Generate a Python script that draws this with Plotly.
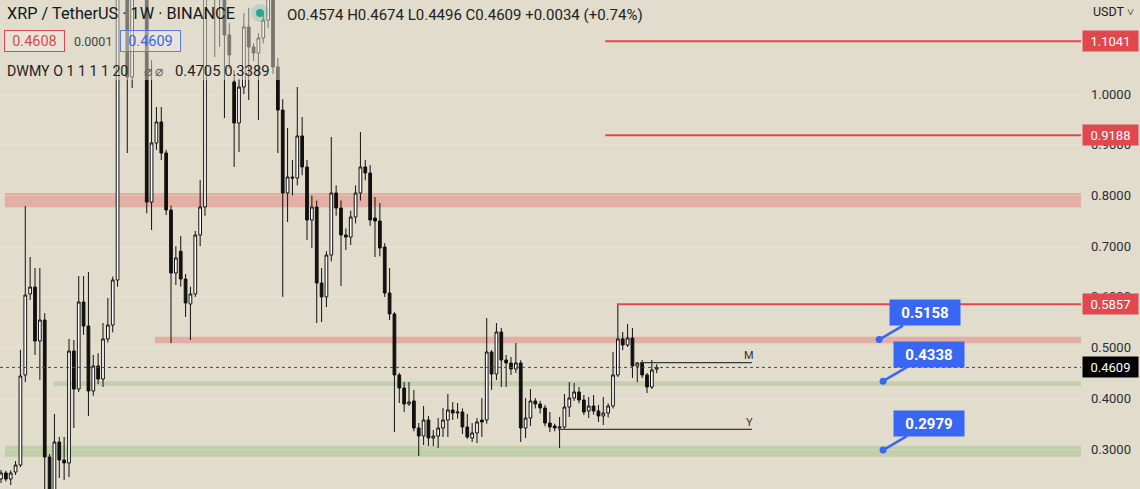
import plotly.graph_objects as go

W, H = 1140, 489
PLOT_W = 1081

# ---------------- data ----------------
week_index = list(range(136))
opens = [0.2408,0.2527,0.2408,0.2546,0.2684,0.4460,0.6057,0.6195,0.5130,0.5544,
         0.2842,0.2150,0.3138,0.2783,0.2724,0.4933,0.4183,0.5900,0.5426,0.4144,
         0.4637,0.4380,0.5170,0.5446,0.6333,1.3000,1.4500,1.0337,1.5800,1.4500,
         1.5000,0.7870,0.9036,0.9450,0.8838,0.7714,0.6471,0.6900,0.6353,0.5860,
         0.6057,0.7220,0.7773,1.2400,1.2000,1.2100,1.2700,1.1166,1.0240,0.9430,
         1.0140,1.1324,1.0930,1.0810,1.1107,1.1460,1.2500,1.0535,0.9686,0.8049,
         0.8365,0.8345,0.9174,0.8562,0.7517,0.7773,0.6274,0.6000,0.6826,0.8049,
         0.7753,0.7221,0.7180,0.7576,0.8049,0.8562,0.8444,0.7556,0.7497,0.6984,
         0.6077,0.5663,0.4460,0.4203,0.3888,0.3947,0.3414,0.3256,0.3572,0.3217,
         0.3256,0.3414,0.3572,0.3769,0.3710,0.3730,0.3434,0.3217,0.3316,0.3572,
         0.3572,0.4913,0.4479,0.5308,0.4755,0.4696,0.4578,0.4696,0.3414,0.3611,
         0.3947,0.3888,0.3809,0.3513,0.3454,0.3414,0.3434,0.3828,0.4006,0.4124,
         0.3966,0.3750,0.3848,0.3750,0.3651,0.3710,0.3848,0.4460,0.5170,0.5051,
         0.5189,0.4637,0.4696,0.4460,0.4223,0.4574]
highs = [0.2586,0.2570,0.2580,0.2763,0.4953,0.7790,0.6787,0.6570,0.6570,0.5680,
         0.2900,0.3690,0.3237,0.3237,0.5170,0.5150,0.6412,0.6412,0.6490,0.4854,
         0.4890,0.5485,0.5978,0.6400,1.4000,1.9600,1.5500,1.6500,1.7500,1.6200,
         1.5500,1.0670,0.9745,0.9745,0.8900,0.7800,0.7000,0.7200,0.6450,0.6200,
         0.7300,0.8306,1.3500,1.3200,1.3000,1.3300,1.4000,1.1400,1.0475,1.0300,
         1.1600,1.1700,1.1000,1.1200,1.1600,1.3500,1.3000,1.0710,0.9900,0.9331,
         0.8700,1.0140,0.9548,0.8700,0.8000,0.7900,0.6570,0.6900,0.9154,0.8200,
         0.7900,0.7350,0.7700,0.8200,0.9252,0.8700,0.8600,0.7970,0.7852,0.7060,
         0.6570,0.5700,0.4500,0.4320,0.4320,0.4164,0.3513,0.3848,0.3651,0.3375,
         0.3611,0.3809,0.4085,0.3927,0.3907,0.3800,0.3690,0.3513,0.3611,0.4006,
         0.5584,0.4950,0.5485,0.5387,0.4854,0.4815,0.5090,0.4750,0.4006,0.4183,
         0.4006,0.3950,0.3868,0.3730,0.3500,0.3631,0.4085,0.4320,0.4302,0.4223,
         0.4065,0.4026,0.4065,0.3868,0.4026,0.3900,0.4913,0.5857,0.5308,0.5465,
         0.5387,0.4716,0.4755,0.4500,0.4755,0.4674]
lows = [0.2329,0.2360,0.2290,0.2487,0.2645,0.4320,0.5940,0.4854,0.4360,0.2000,
        0.1700,0.2000,0.2428,0.2389,0.2448,0.3414,0.4124,0.5250,0.3650,0.4050,
        0.4280,0.4223,0.5100,0.5300,0.6200,1.2500,0.8838,1.0120,1.3500,1.2000,
        0.7650,0.7320,0.8900,0.8700,0.7615,0.5090,0.6235,0.6200,0.5604,0.5150,
        0.6000,0.7000,0.7600,1.1900,1.0730,1.0930,0.9529,1.0500,0.8562,0.8858,
        1.0000,0.9884,1.0650,0.9490,1.1000,1.1300,1.0400,0.8838,0.6000,0.7477,
        0.8000,0.8200,0.8400,0.7122,0.6964,0.5485,0.5505,0.5800,0.6700,0.7600,
        0.6215,0.6925,0.7024,0.7450,0.7900,0.8300,0.7400,0.6787,0.6800,0.6000,
        0.5544,0.3335,0.3907,0.3730,0.3850,0.3350,0.2862,0.3079,0.3059,0.3059,
        0.3020,0.3237,0.3237,0.3572,0.3600,0.3296,0.3197,0.3138,0.3118,0.3237,
        0.3500,0.4164,0.4361,0.4223,0.4223,0.4460,0.4500,0.3138,0.3217,0.3454,
        0.3800,0.3700,0.3450,0.3335,0.3350,0.3020,0.3400,0.3631,0.3950,0.3900,
        0.3671,0.3611,0.3680,0.3533,0.3473,0.3620,0.3800,0.4420,0.4950,0.5012,
        0.4400,0.4321,0.4400,0.4104,0.4183,0.4496]
closes = [0.2527,0.2408,0.2527,0.2684,0.4440,0.6037,0.6195,0.5130,0.5544,0.2842,
          0.2150,0.3138,0.2783,0.2724,0.4933,0.4183,0.5900,0.5426,0.4144,0.4637,
          0.4380,0.5170,0.5446,0.6333,1.3000,1.4500,1.0337,1.5800,1.4500,1.5000,
          0.7870,0.9036,0.9450,0.8838,0.7714,0.6471,0.6767,0.6353,0.5880,0.6057,
          0.7220,0.7773,1.2400,1.2000,1.2100,1.2700,1.1166,1.0771,0.9430,1.0140,
          1.1324,1.0930,1.0810,1.1107,1.1460,1.2500,1.0535,0.9686,0.8049,0.8365,
          0.8345,0.9174,0.8562,0.7517,0.7773,0.6274,0.6000,0.6826,0.8049,0.7753,
          0.7221,0.7180,0.7576,0.8049,0.8562,0.8444,0.7517,0.7497,0.6964,0.6077,
          0.5663,0.4460,0.4203,0.3888,0.3927,0.3414,0.3256,0.3572,0.3217,0.3256,
          0.3414,0.3572,0.3769,0.3710,0.3730,0.3434,0.3237,0.3316,0.3533,0.3533,
          0.4913,0.4479,0.5308,0.4755,0.4696,0.4578,0.4696,0.3414,0.3611,0.3947,
          0.3888,0.3809,0.3513,0.3434,0.3414,0.3434,0.3828,0.4006,0.4124,0.3966,
          0.3730,0.3848,0.3750,0.3651,0.3710,0.3848,0.4460,0.5170,0.5051,0.5189,
          0.4637,0.4696,0.4460,0.4223,0.4558,0.4609]

price_ticks = [0.3, 0.4, 0.5, 0.6, 0.7, 0.8, 0.9, 1.0]
price_tick_text = ["%.4f" % v for v in price_ticks]

zone_low = [0.777, 0.5085, 0.4243, 0.2848]
zone_high = [0.805, 0.5215, 0.4338, 0.3065]
zone_kind = ["resist", "resist", "support", "support"]

red_levels = [1.1041, 0.9188, 0.5857]
callout_levels = [0.5158, 0.4338, 0.2979]
pivot_levels = [0.4705, 0.3389]
pivot_names = ["M", "Y"]
last_price = 0.4609

# ---------------- layout helpers ----------------
X0, X1 = -0.206, 222.35
Y0, Y1 = 0.2211, 1.1856
BG = "#E1DCCB"
RED = "#E0484E"
BLUE = "#3A66F4"

zone_start = [0.8, 31.7, 10.9, 0.8]
red_start = [124.4, 124.4, 126.8]
callout_x = [180.8, 181.6, 181.6]
pivot_start = [131.6, 114.7]
pivot_end = 154.6


def pxx(v):
    return v / PLOT_W


def pxy(v):
    return 1 - v / H


fig = go.Figure()
fig.add_trace(go.Candlestick(
    x=week_index, open=opens, high=highs, low=lows, close=closes,
    increasing=dict(line=dict(color="#111111", width=1), fillcolor="#FFFFFF"),
    decreasing=dict(line=dict(color="#111111", width=1), fillcolor="#111111"),
    whiskerwidth=0, hoverinfo="skip", showlegend=False,
))

shapes = []
for lo, hi, kind, xs in zip(zone_low, zone_high, zone_kind, zone_start):
    col = "rgba(232,110,110,0.42)" if kind == "resist" else "rgba(120,180,100,0.30)"
    shapes.append(dict(type="rect", xref="x", yref="y", x0=xs, x1=X1, y0=lo, y1=hi,
                       fillcolor=col, line=dict(width=0), layer="below"))
for lv, xs in zip(red_levels, red_start):
    shapes.append(dict(type="line", xref="x", yref="y", x0=xs, x1=X1, y0=lv, y1=lv,
                       line=dict(color=RED, width=2)))
for lv, xs in zip(pivot_levels, pivot_start):
    shapes.append(dict(type="line", xref="x", yref="y", x0=xs, x1=pivot_end, y0=lv, y1=lv,
                       line=dict(color="#3a3a3a", width=1.3)))
shapes.append(dict(type="line", xref="paper", yref="y", x0=0, x1=1, y0=last_price, y1=last_price,
                   line=dict(color="#4a4a4a", width=1, dash="dot")))
# legend translucent backdrop
shapes.append(dict(type="rect", xref="paper", yref="paper", x0=0, x1=pxx(282), y0=pxy(80), y1=1,
                   fillcolor="rgba(225,220,203,0.5)", line=dict(width=0), layer="above"))
# status dot
shapes.append(dict(type="circle", xref="paper", yref="paper", x0=pxx(251), x1=pxx(269),
                   y0=pxy(22), y1=pxy(4), fillcolor="rgba(38,166,154,0.18)", line=dict(width=0), layer="above"))
shapes.append(dict(type="circle", xref="paper", yref="paper", x0=pxx(256), x1=pxx(264),
                   y0=pxy(17), y1=pxy(9), fillcolor="#26A69A", line=dict(width=0), layer="above"))

ann = []
FONT = "Roboto"
# axis price tags
for lv in red_levels:
    ann.append(dict(xref="paper", yref="y", x=1, y=lv, xanchor="left", yanchor="middle", xshift=1,
                    text="%.4f" % lv, showarrow=False, bgcolor=RED, width=51, height=16, borderpad=2,
                    font=dict(family=FONT, size=13, color="white")))
ann.append(dict(xref="paper", yref="y", x=1, y=last_price, xanchor="left", yanchor="middle", xshift=1,
                text="%.4f" % last_price, showarrow=False, bgcolor="#000000", width=51, height=16, borderpad=2,
                font=dict(family=FONT, size=13, color="white")))
# callouts
for lv, xc in zip(callout_levels, callout_x):
    ann.append(dict(xref="x", yref="y", x=xc, y=lv, text="<b>%.4f</b>" % lv, showarrow=True,
                    ax=46, ay=-27, arrowhead=6, arrowsize=0.7, arrowwidth=2.5, arrowcolor=BLUE,
                    bgcolor=BLUE, width=64, height=19, borderpad=3,
                    font=dict(family=FONT, size=15, color="white")))
# pivot labels
for lv, nm in zip(pivot_levels, pivot_names):
    ann.append(dict(xref="x", yref="y", x=pivot_end - 0.6, y=lv, yshift=7, text=nm, showarrow=False,
                    font=dict(family=FONT, size=11, color="#333333")))
# header texts
ann.append(dict(xref="paper", yref="paper", x=pxx(5), y=pxy(14), xanchor="left", yanchor="middle",
                text="XRP / TetherUS · 1W · BINANCE", showarrow=False,
                font=dict(family=FONT, size=16.3, color="#131722")))
ann.append(dict(xref="paper", yref="paper", x=pxx(285), y=pxy(15), xanchor="left", yanchor="middle",
                text="O0.4574 H0.4674 L0.4496 C0.4609 +0.0034 (+0.74%)", showarrow=False,
                font=dict(family=FONT, size=15, color="#222222")))
ann.append(dict(xref="paper", yref="paper", x=pxx(4), y=pxy(41), xanchor="left", yanchor="middle",
                text="0.4608", showarrow=False, bordercolor=RED, borderwidth=1, borderpad=2,
                bgcolor="rgba(255,255,255,0.25)", width=55, height=16,
                font=dict(family=FONT, size=14.5, color=RED)))
ann.append(dict(xref="paper", yref="paper", x=pxx(72), y=pxy(42), xanchor="left", yanchor="middle",
                text="0.0001", showarrow=False, font=dict(family=FONT, size=12.5, color="#444444")))
ann.append(dict(xref="paper", yref="paper", x=pxx(120), y=pxy(41), xanchor="left", yanchor="middle",
                text="0.4609", showarrow=False, bordercolor="#5B7CF6", borderwidth=1, borderpad=2,
                bgcolor="rgba(255,255,255,0.25)", width=55, height=16,
                font=dict(family=FONT, size=14.5, color="#3D63F2")))
ann.append(dict(xref="paper", yref="paper", x=pxx(5), y=pxy(71), xanchor="left", yanchor="middle",
                text="DWMY O 1 1 1 1 20", showarrow=False,
                font=dict(family=FONT, size=14.2, color="#222222")))
ann.append(dict(xref="paper", yref="paper", x=pxx(142), y=pxy(71), xanchor="left", yanchor="middle",
                text="⌀ ⌀", showarrow=False, font=dict(family=FONT, size=13.5, color="#666666")))
ann.append(dict(xref="paper", yref="paper", x=pxx(173), y=pxy(71), xanchor="left", yanchor="middle",
                text="0.4705 0.3389", showarrow=False, font=dict(family=FONT, size=14.8, color="#222222")))
ann.append(dict(xref="paper", yref="paper", x=1, y=pxy(11), xanchor="left", yanchor="middle", xshift=10,
                text="USDT ˅", showarrow=False, font=dict(family=FONT, size=12.5, color="#222222")))

fig.update_layout(
    width=W, height=H, margin=dict(l=0, r=W - PLOT_W, t=0, b=0),
    paper_bgcolor=BG, plot_bgcolor=BG, boxgap=0.2,
    showlegend=False, shapes=shapes, annotations=ann,
    xaxis=dict(range=[X0, X1], visible=False, rangeslider=dict(visible=False), fixedrange=True),
    yaxis=dict(range=[Y0, Y1], side="right", tickmode="array", tickvals=price_ticks,
               ticktext=price_tick_text, showgrid=True, gridcolor="rgba(255,255,255,0.18)",
               zeroline=False, showline=False, ticks="", ticklabelstandoff=9,
               tickfont=dict(family=FONT, size=13, color="#2a2e39"), fixedrange=True),
)

fig.write_html("out.html")
